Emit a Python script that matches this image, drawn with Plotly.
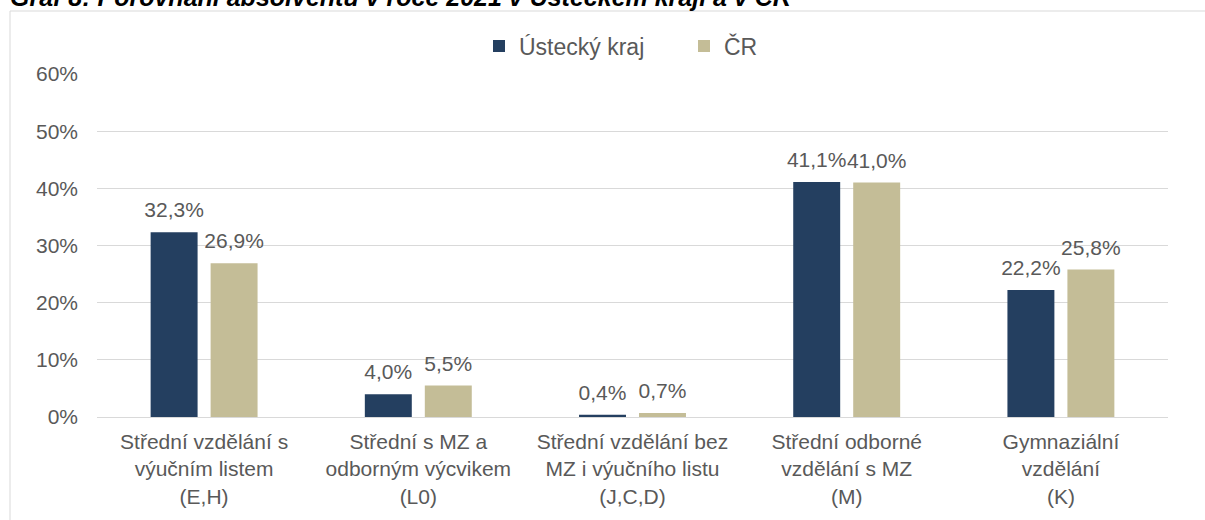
import plotly.graph_objects as go

categories = [
    "Střední vzdělání s<br>výučním listem<br>(E,H)",
    "Střední s MZ a<br>odborným výcvikem<br>(L0)",
    "Střední vzdělání bez<br>MZ i výučního listu<br>(J,C,D)",
    "Střední odborné<br>vzdělání s MZ<br>(M)",
    "Gymnaziální<br>vzdělání<br>(K)",
]
ustecky = [32.3, 4.0, 0.4, 41.1, 22.2]
cr = [26.9, 5.5, 0.7, 41.0, 25.8]
series_names = ["Ústecký kraj", "ČR"]
tick_vals = [0, 10, 20, 30, 40, 50, 60]
tick_text = ["0%", "10%", "20%", "30%", "40%", "50%", "60%"]
title_text = "Graf 8: Porovnání absolventů v roce 2021 v Ústeckém kraji a v ČR"

NAVY = "#243F60"
TAN = "#C4BD97"
GRAY = "#595959"
FONT = "Liberation Sans, Arial, sans-serif"

def fmt(v):
    return f"{v:.1f}".replace(".", ",") + "%"

W, H = 1205, 520
ML, MR, MT, MB = 97, 37, 74, 103
PW, PH = W - ML - MR, H - MT - MB

def px_x(p):
    return (p - ML) / PW

def px_y(p):
    return (H - MB - p) / PH

fig = go.Figure()
for i, (name, vals, col) in enumerate([(series_names[0], ustecky, NAVY), (series_names[1], cr, TAN)]):
    fig.add_trace(go.Bar(
        x=categories, y=vals, name=name, offsetgroup=str(i),
        marker=dict(color=col, line=dict(width=0)),
        hoverinfo="skip",
    ))
for i, vals in enumerate([ustecky, cr]):
    fig.add_trace(go.Scatter(
        x=categories, y=vals, offsetgroup=str(i), mode="markers+text",
        marker=dict(size=14, opacity=0),
        text=[fmt(v) for v in vals], textposition="top center",
        textfont=dict(family=FONT, size=21, color=GRAY),
        showlegend=False, hoverinfo="skip", cliponaxis=False,
    ))

fig.update_layout(
    width=W, height=H,
    margin=dict(l=ML, r=MR, t=MT, b=MB),
    paper_bgcolor="white", plot_bgcolor="white",
    barmode="group", bargap=0.44, bargroupgap=0.217,
    scattermode="group", scattergap=0.44,
    font=dict(family=FONT, size=21, color=GRAY),
    showlegend=True,
    legend=dict(orientation="h", x=px_x(479), xanchor="left", y=px_y(46), yanchor="middle",
                font=dict(family=FONT, size=23, color=GRAY), itemwidth=30,
                entrywidth=160, entrywidthmode="pixels",
                bgcolor="rgba(0,0,0,0)"),
    xaxis=dict(showgrid=False, showline=False, ticks="", ticklabelstandoff=10,
               tickfont=dict(family=FONT, size=21, color=GRAY)),
    yaxis=dict(range=[0, 60], tickvals=tick_vals, ticktext=tick_text,
               showgrid=True, gridcolor="#D9D9D9", gridwidth=1,
               zeroline=True, zerolinecolor="#D9D9D9", zerolinewidth=1,
               showline=False, ticks="", ticklabelstandoff=18,
               tickfont=dict(family=FONT, size=21, color=GRAY)),
    shapes=[dict(type="rect", xref="paper", yref="paper",
                 x0=px_x(10), x1=px_x(1230), y0=px_y(560), y1=px_y(11),
                 line=dict(color="#D9D9D9", width=1), fillcolor="rgba(0,0,0,0)", layer="below")],
    annotations=[dict(text="<i><b>" + title_text + "</b></i>", xref="paper", yref="paper",
                      x=px_x(8), xanchor="left", y=px_y(-4), yanchor="middle",
                      showarrow=False, font=dict(family=FONT, size=25, color="black"))],
)

fig.write_html("out.html", config={"displayModeBar": False},
               post_script="document.body.style.margin='0';document.body.style.overflow='hidden';")
